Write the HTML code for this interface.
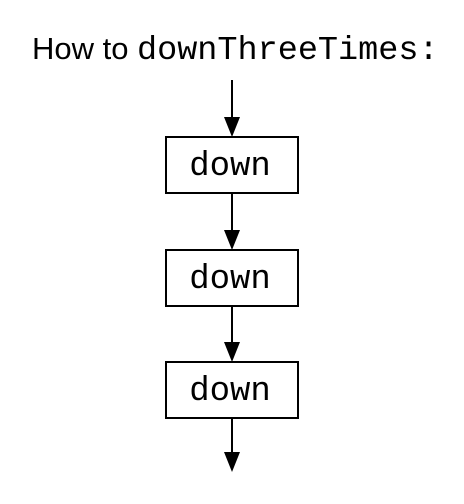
<!DOCTYPE html>
<html><head><style>html,body{margin:0;padding:0;background:#fff}</style></head>
<body>
<svg width="464" height="499" viewBox="0 0 464 499" xmlns="http://www.w3.org/2000/svg">
<text x="32" y="59" font-family="Liberation Sans, sans-serif" font-size="31" fill="#000">How to<tspan font-family="Liberation Mono, monospace" font-size="33.5" x="137">downThreeTimes:</tspan></text>
<g stroke="#000" stroke-width="2" fill="none">
<line x1="232" y1="80" x2="232" y2="120"/>
<rect x="166" y="137" width="132" height="56"/>
<line x1="232" y1="193" x2="232" y2="233"/>
<rect x="166" y="250" width="132" height="56"/>
<line x1="232" y1="306" x2="232" y2="346"/>
<rect x="166" y="362" width="132" height="56"/>
<line x1="232" y1="418" x2="232" y2="456"/>
</g>
<g fill="#000">
<polygon points="224,117 240,117 232,137"/>
<polygon points="224,230 240,230 232,250"/>
<polygon points="224,342 240,342 232,362"/>
<polygon points="224,452 240,452 232,472"/>
</g>
<g font-family="Liberation Mono, monospace" font-size="34" fill="#000" text-anchor="middle">
<text x="230" y="175">down</text>
<text x="230" y="288">down</text>
<text x="230" y="400">down</text>
</g>
</svg>
</body></html>
